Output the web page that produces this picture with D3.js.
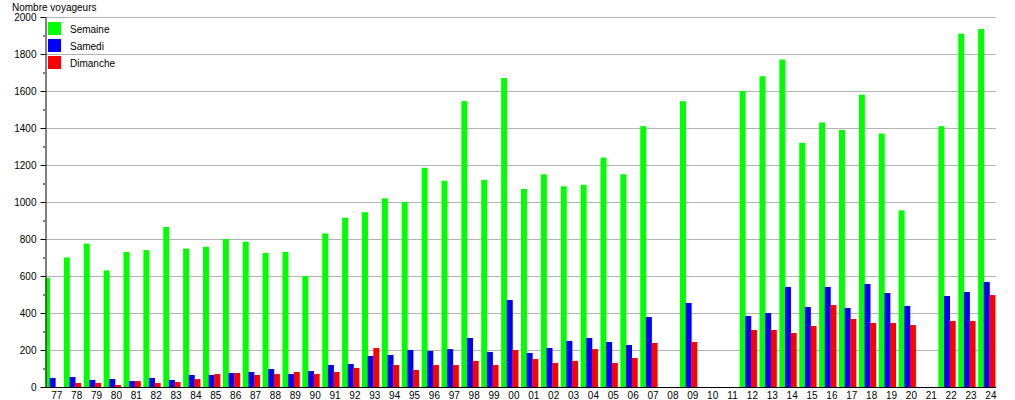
<!DOCTYPE html>
<html><head><meta charset="utf-8">
<script src="https://cdn.jsdelivr.net/npm/d3@7"></script>
<style>body{margin:0;background:#fff}svg{display:block;font-family:"Liberation Sans",Arial,sans-serif}</style>
</head><body><svg id="c" width="1015" height="400"></svg>
<script>
const categories = ["77","78","79","80","81","82","83","84","85","86","87","88","89","90","91","92","93","94","95","96","97","98","99","00","01","02","03","04","05","06","07","08","09","10","11","12","13","14","15","16","17","18","19","20","21","22","23","24"];
const semaine  = [590,700,775,630,730,740,865,748,758,800,785,725,730,600,830,915,945,1020,1000,1185,1115,1545,1120,1670,1070,1150,1085,1093,1240,1150,1410,0,1545,0,0,1600,1680,1770,1320,1430,1390,1580,1370,955,0,1410,1910,1935];
const samedi   = [49,54,38,43,32,49,38,65,65,76,81,97,70,86,119,124,168,173,200,195,205,265,189,470,184,211,249,265,243,227,378,0,454,0,0,384,400,541,432,541,427,557,508,438,0,492,514,568];
const dimanche = [0,22,22,11,32,22,27,43,70,76,65,70,81,70,81,103,211,119,92,119,119,141,119,200,151,130,141,205,130,157,238,0,243,0,0,308,308,292,330,443,368,346,346,335,0,357,357,497];
const seriesNames = ["Semaine","Samedi","Dimanche"];
const seriesColors = ["#00ff00","#0000ff","#ff0000"];
const yTicks = [0,200,400,600,800,1000,1200,1400,1600,1800,2000];
const yLabel = "Nombre voyageurs";

const svg = d3.select("#c");
const x0 = 45, xr = 996, yb = 387, yt = 17;
const x = d3.scaleBand().domain(categories).range([44, 998]).padding(0);
const xs = d3.scaleBand().domain(seriesNames).range([0, 17]);
const y = d3.scaleLinear().domain([0, 2000]).range([yb, yt]);
const color = d3.scaleOrdinal().domain(seriesNames).range(seriesColors);
const data = [semaine, samedi, dimanche];

svg.append("defs").append("clipPath").attr("id", "pc")
  .append("rect").attr("x", x0 + 0.5).attr("y", 0).attr("width", 1015).attr("height", yb);

// gridlines
svg.append("g").selectAll("line").data(yTicks.filter(d => d > 0)).join("line")
  .attr("x1", x0).attr("x2", xr).attr("y1", d => y(d)+0.5).attr("y2", d => y(d)+0.5)
  .attr("stroke", "#b4b4b4").attr("stroke-width", 1);

// bars
const g = svg.append("g").attr("clip-path", "url(#pc)");
seriesNames.forEach((s, si) => {
  g.append("g").attr("fill", color(s)).selectAll("rect").data(categories).join("rect")
    .attr("x", (c) => x(c) + xs(s))
    .attr("width", xs.bandwidth() + 0.3)
    .attr("y", (c, i) => y(data[si][i]))
    .attr("height", (c, i) => yb - y(data[si][i]));
});

// y axis
const yAxis = d3.axisLeft(y).tickValues(yTicks).tickFormat(d3.format("d")).tickSize(5).tickPadding(4).tickSizeOuter(0);
const ya = svg.append("g").attr("transform", `translate(${x0+0.5},0)`).call(yAxis);
ya.selectAll("text").attr("font-size", 10).attr("fill", "#000").attr("font-family", "Liberation Sans, Arial, sans-serif");
ya.select(".domain").attr("stroke", "#000");
const minor = d3.range(100, 2000, 200);
svg.append("g").selectAll("line").data(minor).join("line")
  .attr("x1", x0 - 2).attr("x2", x0).attr("y1", d => y(d)+0.5).attr("y2", d => y(d)+0.5)
  .attr("stroke", "#000");

// x axis
const xAxis = d3.axisBottom(x).tickSize(0).tickPadding(4).tickSizeOuter(0);
const xa = svg.append("g").attr("transform", `translate(0,${yb+0.5})`).call(xAxis);
xa.select(".domain").attr("d", `M${x0},0H${xr}`).attr("stroke", "#000");
xa.selectAll(".tick").attr("transform", d => `translate(${x(d) + 12.8},0)`);
xa.selectAll("text").attr("font-size", 10).attr("fill", "#000").attr("font-family", "Liberation Sans, Arial, sans-serif");

// title
svg.append("text").attr("x", 12).attr("y", 11).attr("font-size", 10).text(yLabel);

// legend
const lg = svg.append("g").selectAll("g").data(seriesNames).join("g")
  .attr("transform", (d, i) => `translate(48,${22 + i*17})`);
lg.append("rect").attr("width", 13).attr("height", 13).attr("fill", d => color(d));
lg.append("text").attr("x", 22).attr("y", 10.5).attr("font-size", 10).text(d => d);
</script>
</body></html>
